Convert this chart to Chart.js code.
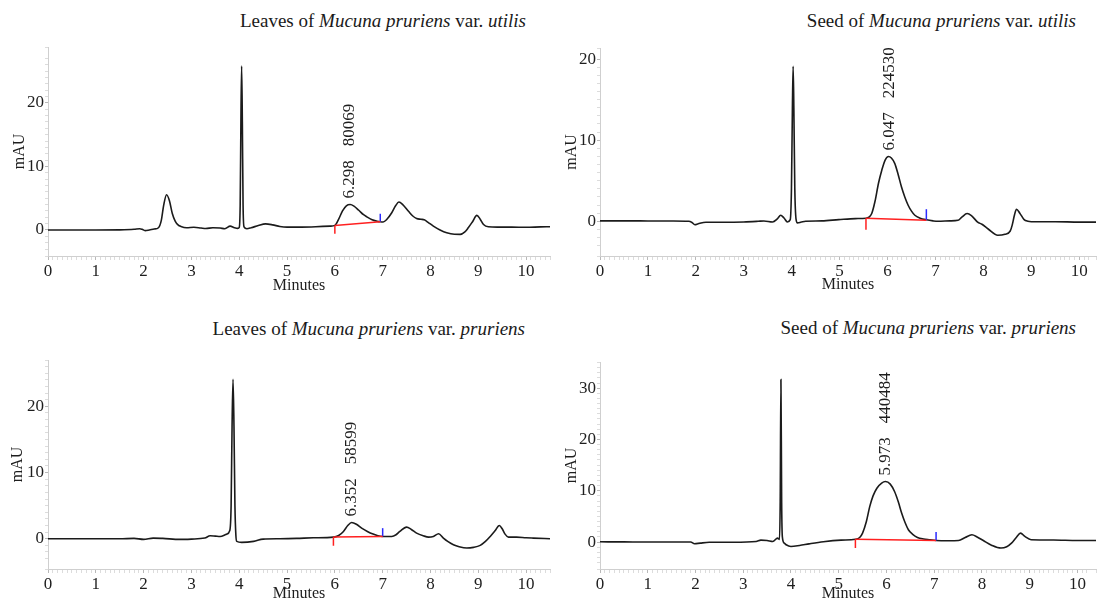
<!DOCTYPE html>
<html>
<head>
<meta charset="utf-8">
<script src="https://cdn.jsdelivr.net/npm/chart.js@4.4.1/dist/chart.umd.min.js"></script>
<style>
  html, body { margin: 0; padding: 0; background: #fff; }
  body { width: 1097px; height: 599px; overflow: hidden; position: relative; }
  .title { position: absolute; white-space: nowrap; font-family: 'Liberation Serif', 'Times New Roman', Times, serif; font-size: 19px; line-height: 19px; color: #1a1a1a; }
  canvas { position: absolute; }
</style>
</head>
<body>
<div class="title" style="right:571px; top:11px">Leaves of <i>Mucuna pruriens</i> var. <i>utilis</i></div>
<div class="title" style="right:21px; top:11px">Seed of <i>Mucuna pruriens</i> var. <i>utilis</i></div>
<div class="title" style="right:572px; top:319px">Leaves of <i>Mucuna pruriens</i> var. <i>pruriens</i></div>
<div class="title" style="right:21px; top:318px">Seed of <i>Mucuna pruriens</i> var. <i>pruriens</i></div>
<canvas id="c1" width="555" height="300" style="left:0;top:0;width:555px;height:300px"></canvas>
<canvas id="c2" width="542" height="300" style="left:555px;top:0;width:542px;height:300px"></canvas>
<canvas id="c3" width="555" height="310" style="left:0;top:300px;width:555px;height:310px"></canvas>
<canvas id="c4" width="542" height="310" style="left:555px;top:300px;width:542px;height:310px"></canvas>
<script>
// ---------- DATA ----------
// Leaves of Mucuna pruriens var. utilis
const luTime   = [0, 0.5, 1.0, 1.5, 1.8, 1.92, 1.97, 2.03, 2.12, 2.22, 2.31, 2.37, 2.42, 2.48, 2.54, 2.60, 2.66, 2.72, 2.78, 2.9, 3.05, 3.2, 3.3, 3.45, 3.6, 3.7, 3.81, 3.9, 3.97, 4.0, 4.02, 4.035, 4.05, 4.065, 4.08, 4.10, 4.16, 4.25, 4.4, 4.55, 4.7, 4.85, 5.0, 5.3, 5.6, 5.9, 6.0, 6.08, 6.16, 6.24, 6.32, 6.4, 6.5, 6.6, 6.67, 6.78, 6.88, 6.95, 7.01, 7.08, 7.19, 7.27, 7.34, 7.42, 7.54, 7.63, 7.71, 7.8, 7.87, 7.95, 8.06, 8.2, 8.34, 8.5, 8.62, 8.72, 8.79, 8.88, 8.97, 9.04, 9.11, 9.21, 9.4, 9.7, 10.0, 10.3, 10.5];
const luSignal = [0, 0, 0, 0.02, 0.1, 0.2, 0.1, -0.1, 0.0, 0.15, 0.35, 1.5, 3.9, 5.55, 4.6, 2.6, 1.4, 0.8, 0.55, 0.35, 0.42, 0.3, 0.22, 0.35, 0.3, 0.2, 0.6, 0.35, 0.25, 0.4, 4, 17, 25.8, 17, 4, 0.5, 0.2, 0.35, 0.7, 0.95, 0.8, 0.55, 0.45, 0.45, 0.5, 0.6, 0.72, 1.7, 3.0, 3.8, 4.0, 3.75, 3.1, 2.4, 2.06, 1.6, 1.38, 1.28, 1.25, 1.6, 2.7, 3.8, 4.4, 4.0, 2.95, 2.2, 1.8, 1.68, 1.6, 1.2, 0.6, 0.0, -0.44, -0.68, -0.7, -0.3, 0.34, 1.3, 2.3, 1.7, 0.86, 0.5, 0.45, 0.45, 0.42, 0.48, 0.5];
const luPeakLabels = ['6.298', '80069'];
const luPeakTime = 6.298, luPeakTop = 4.0;
const luEventTime = [6.0, 6.95];
const luEventLevel = [0.72, 1.28];
const luEventTick = [-0.6, 2.55];

// Seed of Mucuna pruriens var. utilis
const suTime   = [0, 0.5, 1.0, 1.5, 1.85, 1.92, 1.98, 2.05, 2.21, 2.6, 3.0, 3.3, 3.42, 3.6, 3.7, 3.77, 3.84, 3.91, 3.97, 3.995, 4.015, 4.03, 4.045, 4.065, 4.09, 4.12, 4.2, 4.29, 4.63, 4.98, 5.33, 5.55, 5.62, 5.67, 5.74, 5.81, 5.88, 5.95, 6.02, 6.08, 6.15, 6.22, 6.29, 6.36, 6.43, 6.5, 6.57, 6.68, 6.81, 6.95, 7.05, 7.3, 7.47, 7.55, 7.66, 7.75, 7.88, 7.97, 8.1, 8.3, 8.45, 8.56, 8.6, 8.65, 8.69, 8.76, 8.85, 8.93, 9.0, 9.5, 10.0, 10.35];
const suSignal = [0.05, 0.05, 0.04, 0.03, 0.0, -0.15, -0.42, -0.3, -0.12, -0.12, -0.08, 0.0, 0.04, -0.08, 0.3, 0.74, 0.4, -0.08, 0.2, 4, 14, 19.1, 14, 4, 0.3, -0.2, -0.1, 0.0, 0.05, 0.2, 0.33, 0.37, 0.55, 0.95, 2.5, 4.66, 6.3, 7.55, 7.98, 7.8, 7.14, 5.8, 4.25, 3.0, 1.98, 1.25, 0.74, 0.38, 0.18, 0.05, 0.0, 0.05, 0.12, 0.5, 0.95, 0.7, -0.1, -0.37, -0.95, -1.73, -1.6, -1.2, -0.5, 0.8, 1.49, 1.0, 0.2, 0.0, -0.05, -0.05, -0.1, -0.1];
const suPeakLabels = ['6.047', '224530'];
const suPeakTime = 6.047, suPeakTop = 7.98;
const suEventTime = [5.55, 6.81];
const suEventLevel = [0.37, 0.13];
const suEventTick = [-1.03, 1.49];

// Leaves of Mucuna pruriens var. pruriens
const lpTime   = [0, 0.5, 1.0, 1.5, 1.8, 2.0, 2.2, 2.4, 2.76, 3.0, 3.28, 3.39, 3.5, 3.6, 3.74, 3.8, 3.83, 3.85, 3.87, 3.89, 3.91, 3.93, 3.95, 4.05, 4.3, 4.5, 4.85, 5.2, 5.55, 5.97, 6.08, 6.18, 6.27, 6.35, 6.45, 6.56, 6.68, 6.8, 6.9, 7.0, 7.19, 7.28, 7.36, 7.5, 7.6, 7.71, 7.85, 7.96, 8.06, 8.17, 8.27, 8.36, 8.48, 8.6, 8.76, 8.9, 9.04, 9.15, 9.25, 9.35, 9.44, 9.5, 9.56, 9.63, 9.8, 10.0, 10.15, 10.5];
const lpSignal = [0, 0, 0, 0, 0.05, -0.1, 0.1, 0.05, -0.1, -0.05, 0.1, 0.45, 0.4, 0.35, 0.7, 1.2, 5, 17, 24.1, 17, 5, 0.5, -0.4, -0.55, -0.4, -0.05, 0.0, 0.05, 0.15, 0.25, 0.5, 1.1, 2.0, 2.46, 2.2, 1.6, 1.1, 0.7, 0.45, 0.35, 0.35, 0.6, 1.1, 1.76, 1.4, 0.85, 0.45, 0.25, 0.35, 0.75, 0.1, -0.4, -0.9, -1.2, -1.4, -1.3, -1.0, -0.4, 0.35, 1.2, 2.0, 1.5, 0.7, 0.25, 0.25, 0.15, 0.1, 0.0];
const lpPeakLabels = ['6.352', '58599'];
const lpPeakTime = 6.352, lpPeakTop = 2.46;
const lpEventTime = [5.97, 7.0];
const lpEventLevel = [0.25, 0.35];
const lpEventTick = [-1.06, 1.6];

// Seed of Mucuna pruriens var. pruriens
const spTime   = [0, 0.5, 1.0, 1.5, 1.9, 1.98, 2.1, 2.29, 2.8, 3.27, 3.37, 3.5, 3.62, 3.72, 3.76, 3.775, 3.79, 3.805, 3.82, 3.86, 3.9, 4.0, 4.18, 4.38, 4.68, 5.05, 5.35, 5.44, 5.5, 5.58, 5.65, 5.72, 5.8, 5.9, 5.98, 6.08, 6.17, 6.25, 6.32, 6.39, 6.46, 6.55, 6.65, 6.78, 6.91, 7.04, 7.3, 7.51, 7.65, 7.79, 7.9, 8.03, 8.2, 8.4, 8.52, 8.62, 8.72, 8.81, 8.9, 9.03, 9.5, 10.0, 10.4];
const spSignal = [0.05, 0.03, 0, 0, 0, -0.33, -0.2, -0.05, -0.05, 0.1, 0.38, 0.3, 0.12, 0.77, 0.5, 8, 31.7, 8, 1.0, -0.2, -0.53, -0.85, -0.66, -0.35, 0.06, 0.38, 0.55, 0.9, 1.75, 4.0, 6.9, 9.0, 10.5, 11.5, 11.8, 11.3, 9.85, 7.8, 5.6, 3.8, 2.4, 1.5, 0.9, 0.6, 0.45, 0.3, 0.25, 0.3, 0.9, 1.42, 1.0, 0.3, -0.6, -1.17, -0.9, -0.2, 0.9, 1.75, 1.1, 0.45, 0.4, 0.3, 0.3];
const spPeakLabels = ['5.973', '440484'];
const spPeakTime = 5.973, spPeakTop = 11.8;
const spEventTime = [5.35, 7.04];
const spEventLevel = [0.55, 0.3];
const spEventTick = [-1.17, 1.95];

// ---------- RENDERING ----------
const FONT = "'Liberation Serif', 'Times New Roman', Times, serif";
const TEXT = '#1e1e1e';
const AXIS = '#cfcfcf';
const isInt = v => Math.abs(v - Math.round(v)) < 1e-6;

const peakLabelPlugin = {
  id: 'peakLabel',
  afterDatasetsDraw(chart, args, opts) {
    const { ctx, scales: { x, y } } = chart;
    const px = x.getPixelForValue(opts.time);
    const py = y.getPixelForValue(opts.top) - opts.gap;
    ctx.save();
    ctx.translate(px, py);
    ctx.rotate(-Math.PI / 2);
    ctx.font = '17px ' + FONT;
    ctx.fillStyle = TEXT;
    ctx.textAlign = 'left';
    ctx.textBaseline = 'middle';
    ctx.fillText(opts.labels[0], 0, 0);
    const w = ctx.measureText(opts.labels[0]).width;
    ctx.fillText(opts.labels[1], w + opts.spacing, 0);
    ctx.restore();
  }
};

function makeChart(p) {
  const curve = p.time.map((t, i) => ({ x: t, y: p.signal[i] }));
  const [t0, t1] = p.eventTime;
  const [v0, v1] = p.eventLevel;
  new Chart(document.getElementById(p.id), {
    type: 'line',
    data: {
      datasets: [
        { data: curve, borderColor: '#1b1b1b', borderWidth: 1.6, pointRadius: 0, cubicInterpolationMode: 'monotone', order: 2 },
        { data: [{ x: t0, y: v0 }, { x: t1, y: v1 }], borderColor: '#ff2020', borderWidth: 1.5, pointRadius: 0, tension: 0, order: 1 },
        { data: [{ x: t0, y: v0 }, { x: t0, y: p.eventTick[0] }], borderColor: '#ff2020', borderWidth: 1.5, pointRadius: 0, tension: 0, order: 1 },
        { data: [{ x: t1, y: v1 }, { x: t1, y: p.eventTick[1] }], borderColor: '#2a2aff', borderWidth: 1.5, pointRadius: 0, tension: 0, order: 1 }
      ]
    },
    options: {
      responsive: false,
      animation: false,
      events: [],
      layout: { padding: p.padding },
      plugins: {
        legend: { display: false },
        tooltip: { enabled: false },
        peakLabel: { labels: p.peakLabels, time: p.peakTime, top: p.peakTop, gap: 6, spacing: 14 }
      },
      scales: {
        x: {
          type: 'linear', min: 0, max: p.xMax,
          afterFit: s => { s.height = p.xAxisH; },
          border: { display: true, color: AXIS, width: 1 },
          grid: { display: true, drawOnChartArea: false, drawTicks: true, tickLength: 4, color: AXIS,
                  tickColor: c => isInt(c.tick.value) ? '#b8b8b8' : '#dcdcdc' },
          ticks: { stepSize: 0.1, autoSkip: false, maxRotation: 0, minRotation: 0, padding: 1, color: TEXT,
                   font: { family: FONT, size: 17 },
                   callback: v => isInt(v) ? String(Math.round(v)) : '' },
          title: { display: true, text: 'Minutes', color: TEXT, font: { family: FONT, size: 16 },
                   padding: { top: 0, bottom: p.minutesPad } }
        },
        y: {
          type: 'linear', min: p.yMin, max: p.yMax,
          afterFit: s => { s.width = p.yAxisW; },
          border: { display: true, color: AXIS, width: 1 },
          grid: { display: true, drawOnChartArea: false, drawTicks: true, tickLength: 3, color: AXIS,
                  tickColor: c => (isInt(c.tick.value) && Math.round(c.tick.value) % 10 === 0) ? '#b8b8b8' : '#dcdcdc' },
          ticks: { stepSize: 1, autoSkip: false, padding: 1, color: TEXT, font: { family: FONT, size: 17 },
                   callback: v => (isInt(v) && Math.round(v) % 10 === 0) ? String(Math.round(v)) : '' },
          title: { display: true, text: 'mAU', color: TEXT, font: { family: FONT, size: 16 },
                   padding: { top: p.mauPad, bottom: 0 } }
        }
      }
    },
    plugins: [peakLabelPlugin]
  });
}

makeChart({ id: 'c1', time: luTime, signal: luSignal, peakLabels: luPeakLabels, peakTime: luPeakTime, peakTop: luPeakTop,
  eventTime: luEventTime, eventLevel: luEventLevel, eventTick: luEventTick,
  xMax: 10.5, yMin: -4.1, yMax: 28.8, padding: { top: 47, right: 5, left: 0, bottom: 0 },
  yAxisW: 48, xAxisH: 44, mauPad: 10, minutesPad: 4.7 });

makeChart({ id: 'c2', time: suTime, signal: suSignal, peakLabels: suPeakLabels, peakTime: suPeakTime, peakTop: suPeakTop,
  eventTime: suEventTime, eventLevel: suEventLevel, eventTick: suEventTick,
  xMax: 10.35, yMin: -4.28, yMax: 21.36, padding: { top: 48, right: 0, left: 0, bottom: 0 },
  yAxisW: 45, xAxisH: 44, mauPad: 7.4, minutesPad: 5.4 });

makeChart({ id: 'c3', time: lpTime, signal: lpSignal, peakLabels: lpPeakLabels, peakTime: lpPeakTime, peakTop: lpPeakTop,
  eventTime: lpEventTime, eventLevel: lpEventLevel, eventTick: lpEventTick,
  xMax: 10.5, yMin: -4.57, yMax: 27.0, padding: { top: 60, right: 5, left: 0, bottom: 0 },
  yAxisW: 48, xAxisH: 41, mauPad: 8.3, minutesPad: 7.1 });

makeChart({ id: 'c4', time: spTime, signal: spSignal, peakLabels: spPeakLabels, peakTime: spPeakTime, peakTop: spPeakTop,
  eventTime: spEventTime, eventLevel: spEventLevel, eventTick: spEventTick,
  xMax: 10.39, yMin: -5.25, yMax: 35.1, padding: { top: 62, right: 0, left: 0, bottom: 0 },
  yAxisW: 45, xAxisH: 41, mauPad: 7.4, minutesPad: 7.1 });
</script>
</body>
</html>
